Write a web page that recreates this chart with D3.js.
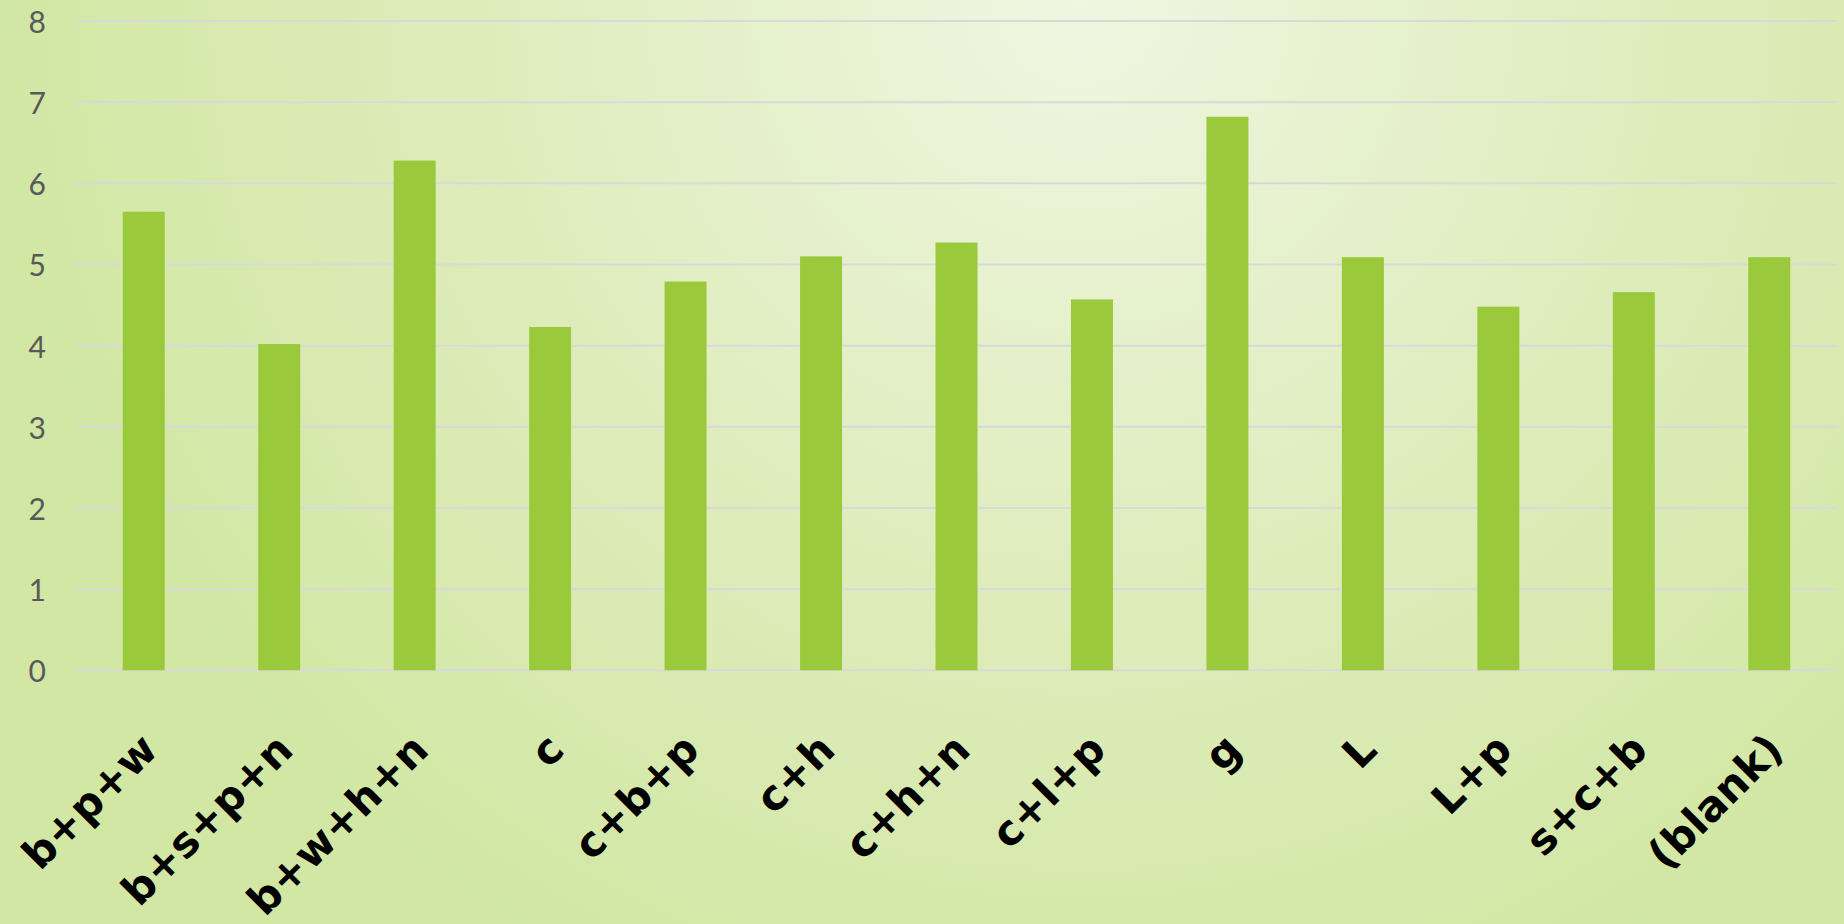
<!DOCTYPE html>
<html>
<head>
<meta charset="utf-8">
<script src="https://cdn.jsdelivr.net/npm/d3@7"></script>
<style>
  html, body { margin: 0; padding: 0; overflow: hidden; }
  svg { display: block; }
</style>
</head>
<body>
<svg id="chart" width="1844" height="924"></svg>
<script>
const categories = ["b+p+w", "b+s+p+n", "b+w+h+n", "c", "c+b+p", "c+h", "c+h+n", "c+l+p", "g", "L", "L+p", "s+c+b", "(blank)"];
const values = [5.65, 4.02, 6.28, 4.23, 4.79, 5.10, 5.27, 4.57, 6.82, 5.09, 4.48, 4.66, 5.09];
const yTicks = [0, 1, 2, 3, 4, 5, 6, 7, 8];

const W = 1844, H = 924;
const svg = d3.select("#chart");

// background gradient
const defs = svg.append("defs");
const grad = defs.append("radialGradient")
  .attr("id", "bg").attr("gradientUnits", "userSpaceOnUse")
  .attr("cx", 1080).attr("cy", 0).attr("r", 1100);
grad.append("stop").attr("offset", "0%").attr("stop-color", "#eff6e1");
grad.append("stop").attr("offset", "55%").attr("stop-color", "#deecbb");
grad.append("stop").attr("offset", "100%").attr("stop-color", "#d1e7a3");
svg.append("rect").attr("width", W).attr("height", H).attr("fill", "url(#bg)");

const x = d3.scaleBand().domain(categories).range([76, 1837]).paddingInner(0.69).paddingOuter(0.345);
const y = d3.scaleLinear().domain([0, 8]).range([670.3, 21]);

// gridlines
svg.append("g").selectAll("line").data(yTicks).join("line")
  .attr("x1", 76).attr("x2", 1837)
  .attr("y1", d => y(d)).attr("y2", d => y(d))
  .attr("stroke", "#d9d9d9").attr("stroke-width", 2);

// y labels
svg.append("g").selectAll("text").data(yTicks).join("text")
  .attr("x", 46).attr("y", d => y(d))
  .attr("text-anchor", "end").attr("dominant-baseline", "central")
  .attr("font-family", "Lato, 'DejaVu Sans', sans-serif").attr("font-size", 30)
  .attr("fill", "#595959")
  .text(d => d);

// bars
svg.append("g").selectAll("rect").data(values).join("rect")
  .attr("x", (d, i) => x(categories[i]))
  .attr("width", x.bandwidth())
  .attr("y", d => y(d))
  .attr("height", d => y(0) - y(d))
  .attr("fill", "#9aca3c");

// x labels
svg.append("g").selectAll("text").data(categories).join("text")
  .attr("transform", d => `translate(${x(d) + x.bandwidth() / 2 + 16},752) rotate(-45)`)
  .attr("text-anchor", "end")
  .attr("font-family", "'DejaVu Sans', sans-serif").attr("font-weight", "bold")
  .attr("font-size", 42)
  .attr("fill", "#000")
  .text(d => d);
</script>
</body>
</html>
